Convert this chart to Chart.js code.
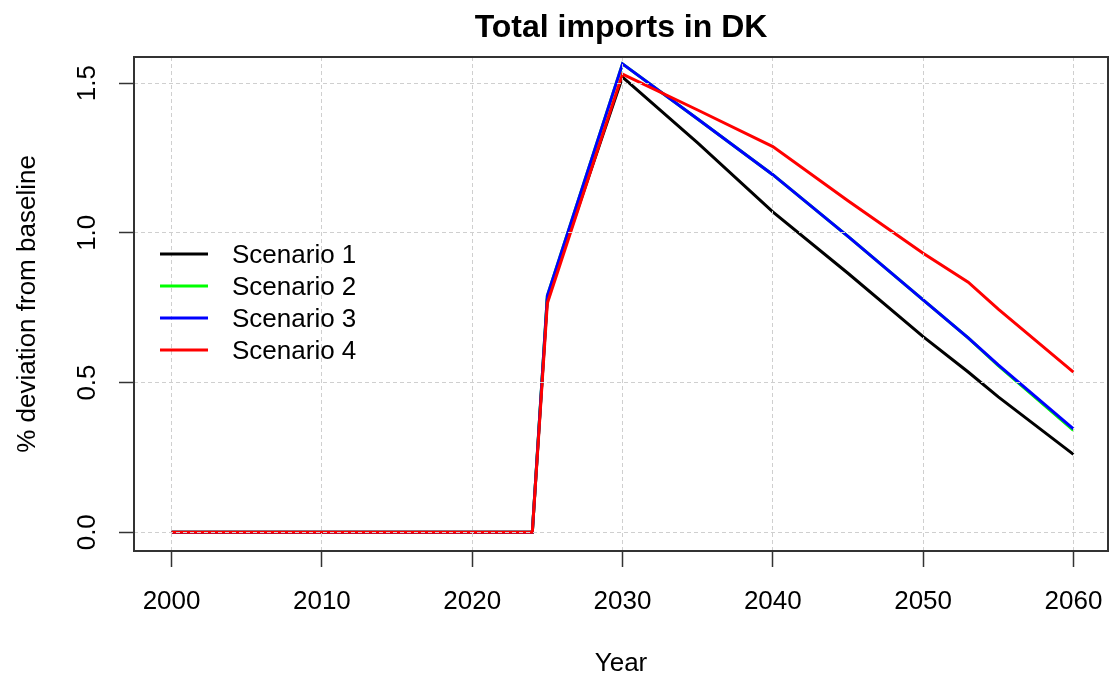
<!DOCTYPE html>
<html>
<head>
<meta charset="utf-8">
<script src="https://cdn.jsdelivr.net/npm/chart.js@4.4.1/dist/chart.umd.min.js"></script>
<style>
  html, body { margin: 0; padding: 0; background: #ffffff; }
  #wrap { width: 1110px; height: 682px; }
</style>
</head>
<body>
<div id="wrap"><canvas id="importsChart" width="1110" height="682"></canvas></div>
<script>
// Values
const years = [2000, 2024, 2025, 2030, 2035, 2040, 2045, 2050, 2053, 2055, 2060];
const scenario1 = [0, 0, 0.78, 1.52, 1.30, 1.07, 0.865, 0.653, 0.535, 0.452, 0.26];
const scenario2 = [0, 0, 0.79, 1.564, 1.38, 1.194, 0.988, 0.776, 0.649, 0.556, 0.34];
const scenario3 = [0, 0, 0.79, 1.564, 1.38, 1.194, 0.988, 0.776, 0.649, 0.559, 0.345];
const scenario4 = [0, 0, 0.765, 1.53, 1.41, 1.288, 1.107, 0.932, 0.835, 0.745, 0.535];

const seriesNames = ['Scenario 1', 'Scenario 2', 'Scenario 3', 'Scenario 4'];
const seriesColors = ['#000000', '#00ff00', '#0000ff', '#ff0000'];
const xTicks = [2000, 2010, 2020, 2030, 2040, 2050, 2060];
const yTicks = [0, 0.5, 1.0, 1.5];
const yTickLabels = ['0.0', '0.5', '1.0', '1.5'];

const FONT = '"Liberation Sans", Arial, sans-serif';
const gridColor = '#cfcfcf';
const axisColor = '#333333';

const toPoints = vals => vals.map((v, i) => ({ x: years[i], y: v }));
const allSeries = [scenario1, scenario2, scenario3, scenario4];

// red drawn last (on top), like R draws scenario 4 last
const datasets = allSeries.map((vals, i) => ({
    label: seriesNames[i],
    data: toPoints(vals),
    borderColor: seriesColors[i],
    backgroundColor: seriesColors[i],
    borderWidth: 3,
    pointRadius: 0,
    tension: 0,
    fill: false,
    order: allSeries.length - i
}));

// title, legend, rotated y labels and the box, drawn the R way
const rStyle = {
    id: 'rStyle',
    afterDraw(chart) {
        const ctx = chart.ctx;
        const area = chart.chartArea;
        const yScale = chart.scales.y;
        ctx.save();

        // box around plot
        ctx.strokeStyle = axisColor;
        ctx.lineWidth = 2;
        ctx.strokeRect(area.left, area.top, area.right - area.left, area.bottom - area.top);

        // title
        ctx.fillStyle = '#000';
        ctx.font = 'bold 32px ' + FONT;
        ctx.textAlign = 'center';
        ctx.textBaseline = 'middle';
        ctx.fillText('Total imports in DK', (area.left + area.right) / 2, 28);

        // y tick labels, rotated like R's las=0
        ctx.font = '26px ' + FONT;
        yTicks.forEach((v, i) => {
            const py = yScale.getPixelForValue(v);
            ctx.save();
            ctx.translate(88, py);
            ctx.rotate(-Math.PI / 2);
            ctx.textAlign = 'center';
            ctx.textBaseline = 'middle';
            ctx.fillText(yTickLabels[i], 0, 0);
            ctx.restore();
        });

        // legend (no box)
        const legX = 160, legY = 254, legStep = 32;
        seriesNames.forEach((name, i) => {
            const ly = legY + i * legStep;
            ctx.strokeStyle = seriesColors[i];
            ctx.lineWidth = 3;
            ctx.beginPath();
            ctx.moveTo(legX, ly);
            ctx.lineTo(legX + 48, ly);
            ctx.stroke();
            ctx.fillStyle = '#000';
            ctx.textAlign = 'left';
            ctx.textBaseline = 'middle';
            ctx.fillText(name, 232, ly + 2);
        });
        ctx.restore();
    }
};

const canvas = document.getElementById('importsChart');
new Chart(canvas.getContext('2d'), {
    type: 'line',
    data: { datasets: datasets },
    options: {
        responsive: false,
        animation: false,
        devicePixelRatio: 1,
        layout: { padding: { top: 57, right: 2, left: 0, bottom: 0 } },
        plugins: {
            legend: { display: false },
            title: { display: false },
            tooltip: { enabled: false }
        },
        scales: {
            x: {
                type: 'linear',
                min: 1997.5,
                max: 2062.3,
                afterBuildTicks: s => { s.ticks = xTicks.map(v => ({ value: v })); },
                afterFit: s => {
                    s.height = 131;
                    // labels stay inside, so no extra side padding
                    s.paddingLeft = 0;
                    s.paddingRight = 0;
                },
                border: { display: false, dash: [4, 3] },
                grid: {
                    z: 1,
                    color: gridColor,
                    lineWidth: 1,
                    drawTicks: true,
                    tickLength: 16,
                    tickColor: axisColor,
                    tickWidth: 1.5
                },
                ticks: {
                    color: '#000',
                    padding: 19,
                    maxRotation: 0,
                    font: { family: FONT, size: 26 },
                    callback: v => String(v)
                },
                title: {
                    display: true,
                    text: 'Year',
                    color: '#000',
                    font: { family: FONT, size: 26 },
                    padding: { top: 0, bottom: 3 }
                }
            },
            y: {
                type: 'linear',
                min: -0.0626,
                max: 1.587,
                afterBuildTicks: s => { s.ticks = yTicks.map(v => ({ value: v })); },
                afterFit: s => {
                    s.width = 134;
                    s.paddingTop = 0;
                    s.paddingBottom = 0;
                },
                border: { display: false, dash: [4, 3] },
                grid: {
                    z: 1,
                    color: gridColor,
                    lineWidth: 1,
                    drawTicks: true,
                    tickLength: 15,
                    tickColor: axisColor,
                    tickWidth: 1.5
                },
                ticks: { display: false },
                title: {
                    display: true,
                    text: '% deviation from baseline',
                    color: '#000',
                    font: { family: FONT, size: 26 },
                    padding: { top: 12, bottom: 0 }
                }
            }
        }
    },
    plugins: [rStyle]
});
</script>
</body>
</html>
